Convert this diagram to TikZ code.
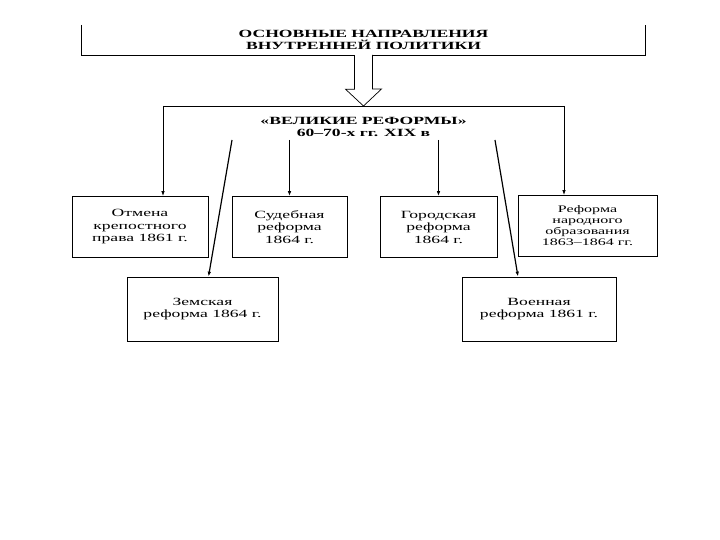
\documentclass[tikz,border=0pt]{standalone}
\usepackage{fontspec}
\setmainfont{Liberation Serif}[FakeStretch=1.6]
\usetikzlibrary{arrows.meta,calc}

\begin{document}
\begin{tikzpicture}[x=1pt,y=-1pt,>={Latex[length=5pt,width=3.5pt]},
  head/.style={font=\bfseries\fontsize{11}{12.5}\selectfont,align=center,inner sep=0pt},
  ref/.style={draw,line width=0.7pt,align=center,inner sep=1pt,minimum height=61pt,
    font=\fontsize{11}{12.5}\selectfont},
  ln/.style={line width=1.2pt}]
\useasboundingbox (0,0) rectangle (720,540);
% heading, open at the top
\node[head,minimum width=563pt,minimum height=30pt](osn) at (363.5,40)
  {ОСНОВНЫЕ НАПРАВЛЕНИЯ\\ВНУТРЕННЕЙ ПОЛИТИКИ};
\draw[line width=0.7pt](osn.north west)--(osn.south west)--(osn.south east)--(osn.north east);
% frame of the great reforms
\coordinate(fl) at (163,106);
\coordinate(fr) at (564,106);
\node[head](vel) at (363.5,127){«ВЕЛИКИЕ РЕФОРМЫ»\\60--70-х гг. XIX в};
% the reforms
\node[ref,minimum width=136pt](b1) at (140,227){Отмена\\крепостного\\права 1861 г.};
\node[ref,minimum width=115pt](b2) at (289.5,227){Судебная\\реформа\\1864 г.};
\node[ref,minimum width=117pt](b3) at (438.5,227){Городская\\реформа\\1864 г.};
\node[ref,minimum width=139pt,font=\fontsize{10}{11}\selectfont](b4) at (587.5,226)
  {Реформа\\народного\\образования\\1863--1864 гг.};
\node[ref,minimum width=151pt,minimum height=64pt](b5) at (202.5,309){Земская\\реформа 1864 г.};
\node[ref,minimum width=154pt,minimum height=64pt](b6) at (539,309){Военная\\реформа 1861 г.};
% connectors
\coordinate(z5) at (232,140);
\coordinate(z6) at (495,140);
\draw[line width=0.9pt](fl)--(fr);
\draw[line width=0.7pt,fill=white](osn.south)++(-9,0)--++(0,34)--++(-9,0)--(osn.south |- fl)
  --++(18,-17)--++(-9,0)--++(0,-34);
\draw[line width=0.9pt,->](fl)--(fl |- b1.north);
\draw[line width=0.9pt,->](fr)--(fr |- b4.north);
\draw[ln,->](b2.north |- z5)--(b2.north);
\draw[ln,->](b3.north |- z5)--(b3.north);
\draw[ln,->](z5)--($(b5.north)+(6,0)$);
\draw[ln,->](z6)--($(b6.north)+(-21,0)$);
\end{tikzpicture}
\end{document}
